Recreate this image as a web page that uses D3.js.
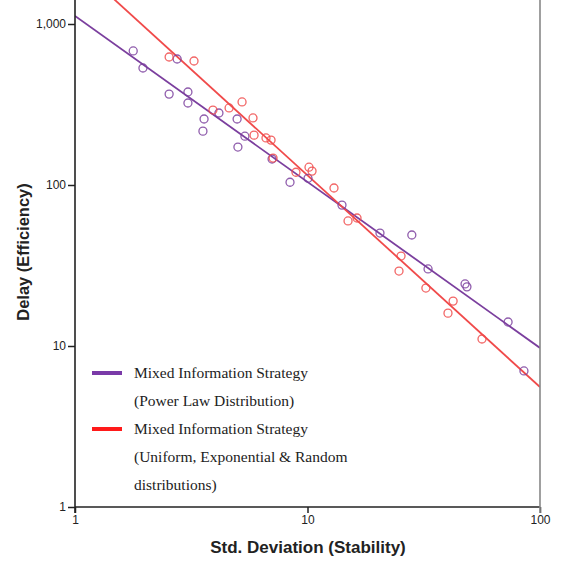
<!DOCTYPE html>
<html>
<head>
<meta charset="utf-8">
<script src="https://d3js.org/d3.v7.min.js"></script>
<style>
  body { margin: 0; background: #fff; }
  svg { display: block; }
</style>
</head>
<body>
<div id="chart"></div>
<script>
// values (Std. deviation, Delay)
var powerLawX = [1.78, 1.96, 2.54, 2.75, 3.06, 3.06, 3.59, 3.55, 4.16, 4.98, 5.38, 5.02,
                 7.04, 8.41, 10.05, 14.07, 20.5, 28.1, 33.0, 47.6, 48.5, 72.9, 85.3];
var powerLawY = [680, 533, 367, 606, 378, 323, 257, 216, 280, 257, 201, 172,
                 145, 104, 110, 75, 50.3, 48.9, 30.1, 24.3, 23.3, 14.1, 7.0];

var otherX = [2.54, 3.25, 3.92, 4.60, 5.23, 5.83, 5.89, 6.63, 6.97, 7.11, 8.92,
              10.15, 10.46, 13.0, 14.94, 16.33, 25.25, 24.75, 32.3, 42.3, 40.2, 56.3];
var otherY = [624, 589, 292, 301, 328, 261, 204, 196, 190, 147, 120,
              129, 122, 95.8, 59.8, 62.4, 36.2, 29.2, 22.9, 19.0, 16.0, 11.05];

// fitted lines: log10(delay) = a + b * log10(sd)
var fitIntercepts = [3.05, 3.375];
var fitSlopes = [-1.031, -1.315];

var xTicks = [1, 10, 100];
var yTicks = [1, 10, 100, 1000];
var legendLabels = [
  ["Mixed Information Strategy", "(Power Law Distribution)"],
  ["Mixed Information Strategy", "(Uniform, Exponential & Random", "distributions)"]
];

var W = 565, H = 562;
var left = 75, right = 540, bottom = 507;
var purple = "#7b3f9e", red = "#f04a4a";

var svg = d3.select("#chart").append("svg").attr("width", W).attr("height", H);

var x = d3.scaleLog().domain([1, 100]).range([left, right]);
var y = d3.scaleLog().domain([1, 1000]).range([bottom, 24]);

svg.append("clipPath").attr("id", "clip")
  .append("rect").attr("x", left).attr("y", 0).attr("width", right - left).attr("height", bottom);

var plot = svg.append("g").attr("clip-path", "url(#clip)");

// fit lines
var series = [
  {xs: powerLawX, ys: powerLawY, color: purple, a: fitIntercepts[0], b: fitSlopes[0]},
  {xs: otherX, ys: otherY, color: red, a: fitIntercepts[1], b: fitSlopes[1]}
];

series.forEach(function(s) {
  var ends = [1, 100].map(function(v) { return [v, Math.pow(10, s.a + s.b * Math.log10(v))]; });
  plot.append("path")
    .datum(ends)
    .attr("d", d3.line().x(function(d) { return x(d[0]); }).y(function(d) { return y(d[1]); }))
    .attr("fill", "none").attr("stroke", s.color).attr("stroke-width", 1.8);
});

// points
series.forEach(function(s) {
  plot.append("g").selectAll("circle")
    .data(s.xs.map(function(v, i) { return [v, s.ys[i]]; }))
    .enter().append("circle")
    .attr("cx", function(d) { return x(d[0]); })
    .attr("cy", function(d) { return y(d[1]); })
    .attr("r", 4)
    .attr("fill", "none")
    .attr("stroke", s.color)
    .attr("stroke-opacity", 0.85)
    .attr("stroke-width", 1.3);
});

// axes
var yAxis = svg.append("g").attr("transform", "translate(" + left + ",0)")
  .call(d3.axisLeft(y).tickValues(yTicks).tickFormat(d3.format(",")).tickSize(7).tickPadding(2));
var xAxis = svg.append("g").attr("transform", "translate(0," + bottom + ")")
  .call(d3.axisBottom(x).tickValues(xTicks).tickFormat(d3.format(",")).tickSize(6).tickPadding(2));

[yAxis, xAxis].forEach(function(g) {
  g.select(".domain").remove();
  g.selectAll("line").attr("stroke", "#222").attr("stroke-width", 1.5);
  g.selectAll("text").attr("font-family", "Liberation Sans, Arial, sans-serif")
    .attr("font-size", 12).attr("fill", "#222");
});

svg.append("line").attr("x1", left).attr("x2", left).attr("y1", 0).attr("y2", bottom + 6)
  .attr("stroke", "#222").attr("stroke-width", 1.6);
svg.append("line").attr("x1", left).attr("x2", right).attr("y1", bottom).attr("y2", bottom)
  .attr("stroke", "#222").attr("stroke-width", 1.6);
svg.append("line").attr("x1", right).attr("x2", right).attr("y1", 0).attr("y2", bottom + 6)
  .attr("stroke", "#888").attr("stroke-width", 1.6);

// axis titles
svg.append("text")
  .attr("x", 308).attr("y", 553)
  .attr("text-anchor", "middle")
  .attr("font-family", "Liberation Sans, Arial, sans-serif")
  .attr("font-weight", "bold").attr("font-size", 17).attr("fill", "#222")
  .text("Std. Deviation (Stability)");

svg.append("text")
  .attr("transform", "translate(29,252) rotate(-90)")
  .attr("text-anchor", "middle")
  .attr("font-family", "Liberation Sans, Arial, sans-serif")
  .attr("font-weight", "bold").attr("font-size", 16.5).attr("fill", "#222")
  .text("Delay (Efficiency)");

// legend
var legendColors = ["#7a3aa8", "#ff1a1a"];
var legendTop = [373, 429];
legendLabels.forEach(function(lines, i) {
  svg.append("rect")
    .attr("x", 92).attr("y", legendTop[i] - 2).attr("width", 30).attr("height", 4)
    .attr("fill", legendColors[i]);
  lines.forEach(function(t, j) {
    svg.append("text")
      .attr("x", 134).attr("y", legendTop[i] + 5 + j * 28)
      .attr("font-family", "Liberation Serif, Times New Roman, serif")
      .attr("font-size", 15.5).attr("fill", "#222")
      .text(t);
  });
});
</script>
</body>
</html>
